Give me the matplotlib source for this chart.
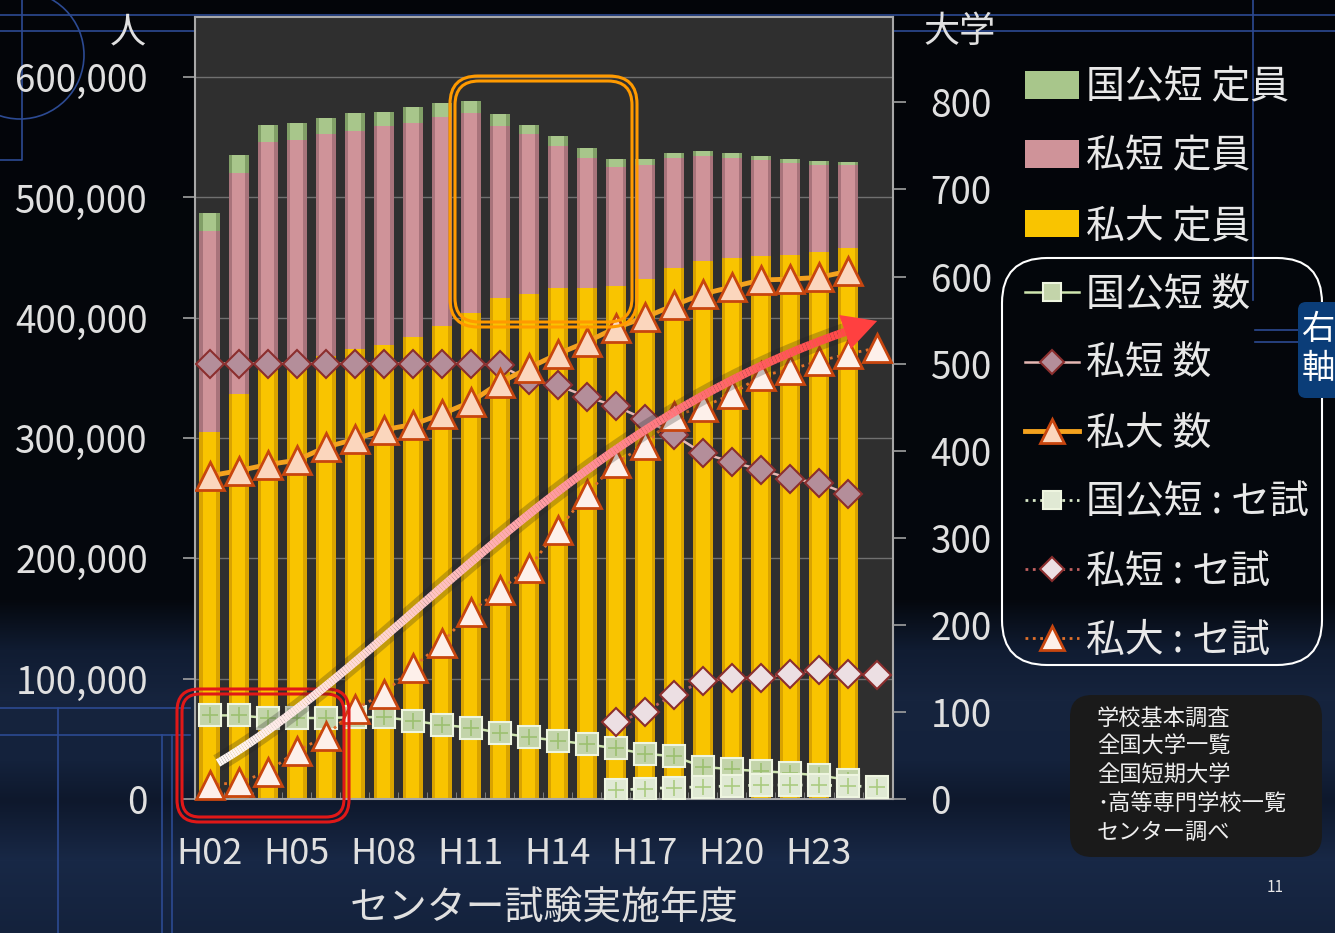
import numpy as np
import matplotlib.pyplot as plt
from matplotlib.patches import FancyBboxPatch, Polygon, Arc
from matplotlib.collections import LineCollection
from matplotlib.colors import LinearSegmentedColormap

plt.rcParams['font.family'] = ['Noto Sans CJK JP', 'DejaVu Sans']

nan = np.nan

# fiscal years of the centre test (H02 .. H25)
years = ['H02', 'H03', 'H04', 'H05', 'H06', 'H07', 'H08', 'H09', 'H10', 'H11', 'H12', 'H13',
         'H14', 'H15', 'H16', 'H17', 'H18', 'H19', 'H20', 'H21', 'H22', 'H23', 'H24', 'H25']

# enrolment capacity (left axis, persons), H02 .. H24
shidai_teiin = [305000, 337000, 358000, 362000, 368000, 374000, 377000, 384000, 393000, 404000,
                416600, 420000, 425000, 425000, 426600, 432000, 441000, 447000, 450000, 451500,
                452300, 454800, 457600]
shitan_teiin = [167000, 183000, 188000, 186000, 185000, 181500, 182000, 178000, 174000, 166000,
                142400, 132600, 117700, 108000, 98900, 95000, 92000, 87400, 83000, 79500,
                76000, 72500, 69000]
kokotan_teiin = [15000, 15000, 14000, 14000, 13000, 14500, 12000, 13000, 11500, 10000,
                 10000, 8000, 8300, 7700, 6500, 5000, 3600, 4100, 4000, 3400,
                 3300, 3100, 3000]

# number of schools (right axis), H02 .. H25
kokotan_su = [96, 96, 93, 93, 93, 94, 94, 90, 85, 82, 76, 71,
              67, 63, 58, 52, 49, 37, 34, 32, 30, 27, 22, nan]
shitan_su = [500, 500, 500, 500, 500, 500, 500, 500, 500, 500, 498, 481,
             475, 462, 451, 436, 418, 397, 387, 378, 368, 363, 350, nan]
shidai_su = [371, 377, 384, 389, 404, 413, 424, 430, 442, 456, 478, 495,
             511, 525, 541, 553, 567, 580, 588, 596, 597, 599, 606, nan]
kokotan_seshi = [nan, nan, nan, nan, nan, nan, nan, nan, nan, nan, nan, nan,
                 nan, nan, 10, 12, 13, 14, 15, 16, 16, 16, 15, 14]
shitan_seshi = [nan, nan, nan, nan, nan, nan, nan, nan, nan, nan, nan, nan,
                nan, nan, 88, 100, 120, 135, 139, 139, 144, 148, 144, 142]
shidai_seshi = [16, 19, 31, 55, 72, 103, 121, 151, 179, 215, 240, 265,
                309, 350, 386, 406, 440, 450, 465, 486, 493, 503, 511, 518]

source_lines = ['学校基本調査', '全国大学一覧', '全国短期大学', '･高等専門学校一覧', 'センター調べ']

W, H = 1335, 933
fig = plt.figure(figsize=(W / 100, H / 100), dpi=100)
fig.patch.set_facecolor('black')

# --- slide background -------------------------------------------------------
bg = fig.add_axes([0, 0, 1, 1], zorder=-5)
bg.set_xlim(0, W)
bg.set_ylim(H, 0)
bg.axis('off')
stops_y = [0, 600, 650, 700, 760, 800, 860, 933]
stops_c = np.array([[3, 5, 9], [5, 8, 14], [16, 28, 50], [22, 36, 62], [20, 34, 60],
                    [14, 24, 44], [24, 40, 70], [20, 34, 60]]) / 255
yy = np.arange(H)
grad = np.stack([np.interp(yy, stops_y, stops_c[:, k]) for k in range(3)], axis=1)
bg.imshow(grad[:, None, :], extent=(0, W, H, 0), aspect='auto')
lc = '#2c4a92'
for y0 in (15, 31):
    bg.plot([0, W], [y0, y0], color=lc, lw=1.2)
bg.plot([22, 22, 0], [0, 160, 160], color=lc, lw=1.2)
bg.add_patch(Arc((20, 55), 128, 128, color=lc, lw=1.2))
bg.plot([1253, 1253], [0, 300], color=lc, lw=1.2)
bg.plot([1255, 1300], [330, 330], color=lc, lw=1.2)
bg.plot([1255, 1300], [342, 342], color=lc, lw=1.2)
bg.add_patch(Arc((1335, -260), 380, 760, theta1=180, theta2=260, color=lc, lw=1.2))
bg.add_patch(Arc((1420, 1000), 900, 900, theta1=120, theta2=175, color=lc, lw=1.2))
bg.plot([0, 190], [708, 708], color=lc, lw=1.2)
bg.plot([0, 190], [735, 735], color=lc, lw=1.2)
bg.plot([58, 58], [708, H], color=lc, lw=1.2)
bg.plot([162, 162], [735, H], color=lc, lw=1.2)
bg.plot([172, 172], [735, H], color=lc, lw=1.2)

# --- main chart ------------------------------------------------------------
ax = fig.add_axes([195 / W, 1 - 799 / H, (893 - 195) / W, (799 - 17) / H])
ax.set_facecolor('#2f2f2f')
x = np.arange(len(years))
nb = len(shidai_teiin)
xb = x[:nb]
bottom2 = np.array(shidai_teiin)
bottom3 = bottom2 + np.array(shitan_teiin)

# two passes per stack: darker full-width body, brighter core -> cylinder look
for w, cy, cp, cg in [(0.69, '#d9a300', '#a8737b', '#819f67'),
                      (0.46, '#f9c400', '#cf9399', '#a8c68b')]:
    b1 = ax.bar(xb, shidai_teiin, width=w, color=cy, zorder=2)
    b2 = ax.bar(xb, shitan_teiin, width=w, bottom=bottom2, color=cp, zorder=2)
    b3 = ax.bar(xb, kokotan_teiin, width=w, bottom=bottom3, color=cg, zorder=2)

ax.set_xlim(-0.5, 23.55)
ax.set_ylim(0, 650000)
ax.set_axisbelow(True)
ax.yaxis.grid(True, color='#707070', lw=1)
yt = list(range(0, 600001, 100000))
ax.set_yticks(yt)
ax.set_yticklabels([f'{v:,}' for v in yt])
ax.set_xticks(x[::3])
ax.set_xticklabels(years[::3])
ax.set_xticks(x[:-1] + 0.5, minor=True)
ax.tick_params(axis='y', colors='#a0a0a0', labelcolor='#e0e0e0', labelsize=26.5,
               length=9, width=1.2, pad=25)
ax.tick_params(axis='x', which='major', length=0, labelcolor='#e0e0e0', labelsize=26, pad=27)
ax.tick_params(axis='x', which='minor', direction='in', length=5, color='#8a8a8a')
for s in ax.spines.values():
    s.set_color('#a8a8a8')
    s.set_linewidth(1.5)
ax.set_xlabel('センター試験実施年度', fontsize=28, color='#e0e0e0', labelpad=12)

ax2 = ax.twinx()
ax2.set_ylim(0, 898)
ax2.set_yticks(range(0, 801, 100))
ax2.tick_params(axis='y', colors='#a0a0a0', labelcolor='#e0e0e0', labelsize=26.5,
                length=9, width=1.2, pad=18)
for s in ax2.spines.values():
    s.set_visible(False)

tri_edge = '#C8460F'
dia_edge = '#8B2E2E'
sq_edge = '#eef5e0'
l_kk, = ax2.plot(x, kokotan_su, '-', color='#cfe6b0', lw=1.8, marker='s', ms=16,
                 mfc='#c3d4aa', mec=sq_edge, mew=1.5, zorder=3)
ax2.plot(x, kokotan_su, ls='none', marker='+', ms=12, mec='#9cc070', mew=1.2, zorder=3)
l_st, = ax2.plot(x, shitan_su, '-', color='#e6b8b4', lw=1.8, marker='D', ms=14,
                 mfc='#b48e9a', mec=dia_edge, mew=1.5, zorder=3)
l_sd, = ax2.plot(x, shidai_su, '-', color='#F4A21E', lw=3.5, marker='^', ms=19.5,
                 mfc='#fbd6bd', mec=tri_edge, mew=2, zorder=4)
l_kks, = ax2.plot(x, kokotan_seshi, ':', color='#d8e8c8', lw=2, marker='s', ms=16,
                  mfc='#e0e9d4', mec=sq_edge, mew=1.5, zorder=3)
ax2.plot(x, kokotan_seshi, ls='none', marker='+', ms=12, mec='#aacb80', mew=1.2, zorder=3)
l_sts, = ax2.plot(x, shitan_seshi, ':', color='#c06060', lw=2, marker='D', ms=14,
                  mfc='#ecdfe3', mec=dia_edge, mew=1.5, zorder=3)
l_sds, = ax2.plot(x, shidai_seshi, ':', color='#e0702a', lw=2, marker='^', ms=19.5,
                  mfc='#fdf0ea', mec=tri_edge, mew=2, zorder=4, clip_on=False)

handles = [b3, b2, b1, l_kk, l_st, l_sd, l_kks, l_sts, l_sds]
labels = ['国公短 定員', '私短 定員', '私大 定員', '国公短 数', '私短 数', '私大 数',
          '国公短 : セ試', '私短 : セ試', '私大 : セ試']
fig.legend(handles, labels, loc='upper left', bbox_to_anchor=(1009 / W, 1 - 52 / H),
           frameon=False, fontsize=28, labelcolor='#e8e8e8', handlelength=1.4,
           handletextpad=0.17, labelspacing=0.75, markerscale=0.85, borderaxespad=0)

# --- overlay: annotations in pixel coordinates -------------------------------
ov = fig.add_axes([0, 0, 1, 1], zorder=6)
ov.set_xlim(0, W)
ov.set_ylim(H, 0)
ov.axis('off')
ov.patch.set_alpha(0)


def rbox(x0, y0, x1, y1, r, **kw):
    ov.add_patch(FancyBboxPatch((x0, y0), x1 - x0, y1 - y0,
                                boxstyle=f'round,pad=0,rounding_size={r}', **kw))


# orange and red double frames
rbox(450, 76, 637, 327, 28, fill=False, ec='#ff9a00', lw=2.2)
rbox(455, 81, 632, 322, 24, fill=False, ec='#ff9a00', lw=2.2)
rbox(177, 689, 349, 822, 22, fill=False, ec='#e01818', lw=2.2)
rbox(182, 694, 344, 817, 18, fill=False, ec='#e01818', lw=2.2)

# rising arrow (white -> red), cubic Bezier in slide pixels
P = np.array([[218, 763], [400, 655], [560, 430], [845, 332]], dtype=float)
t = np.linspace(0, 1, 240)[:, None]
pts = ((1 - t) ** 3 * P[0] + 3 * (1 - t) ** 2 * t * P[1]
       + 3 * (1 - t) * t ** 2 * P[2] + t ** 3 * P[3])
ov.plot(pts[:, 0], pts[:, 1], color='#202020', lw=13, alpha=0.25, solid_capstyle='butt')
segs = np.stack([pts[:-1], pts[1:]], axis=1)
cmap = LinearSegmentedColormap.from_list('arr', ['#fff8f5', '#ffd0d0', '#ff8c96', '#ff4848'])
lcol = LineCollection(segs, cmap=cmap, linewidths=6, capstyle='butt')
lcol.set_array(np.linspace(0, 1, len(segs)))
ov.add_collection(lcol)
d = P[3] - P[2]
d = d / np.hypot(*d)
nrm = np.array([-d[1], d[0]])
tip = P[3] + 34 * d
ov.add_patch(Polygon([tip, P[3] + 18 * nrm, P[3] - 18 * nrm], closed=True,
                     fc='#ff4040', ec='none'))

# legend frame for the line series
rbox(1002, 258, 1322, 665, 45, fill=False, ec='white', lw=1.5)

# right-axis tag
rbox(1298, 302, 1345, 398, 8, fc='#0b3d78', ec='none')
ov.text(1302, 330, '右', color='white', fontsize=24, va='center', ha='left')
ov.text(1302, 368, '軸', color='white', fontsize=24, va='center', ha='left')

# unit labels
ov.text(128, 32, '人', color='#e0e0e0', fontsize=26, ha='center', va='center')
ov.text(960, 32, '大学', color='#e0e0e0', fontsize=26, ha='center', va='center')

# source box
rbox(1070, 695, 1322, 857, 22, fc='#1a1a1a', ec='none')
for i, s in enumerate(source_lines):
    ov.text(1097, 718 + i * 28.6, s, color='#eeeeee', fontsize=16, ha='left', va='center')

ov.text(1275, 888, '11', color='#e8e8e8', fontsize=11, ha='center', va='center')

fig.savefig('out.png', dpi=100, facecolor=fig.get_facecolor())
